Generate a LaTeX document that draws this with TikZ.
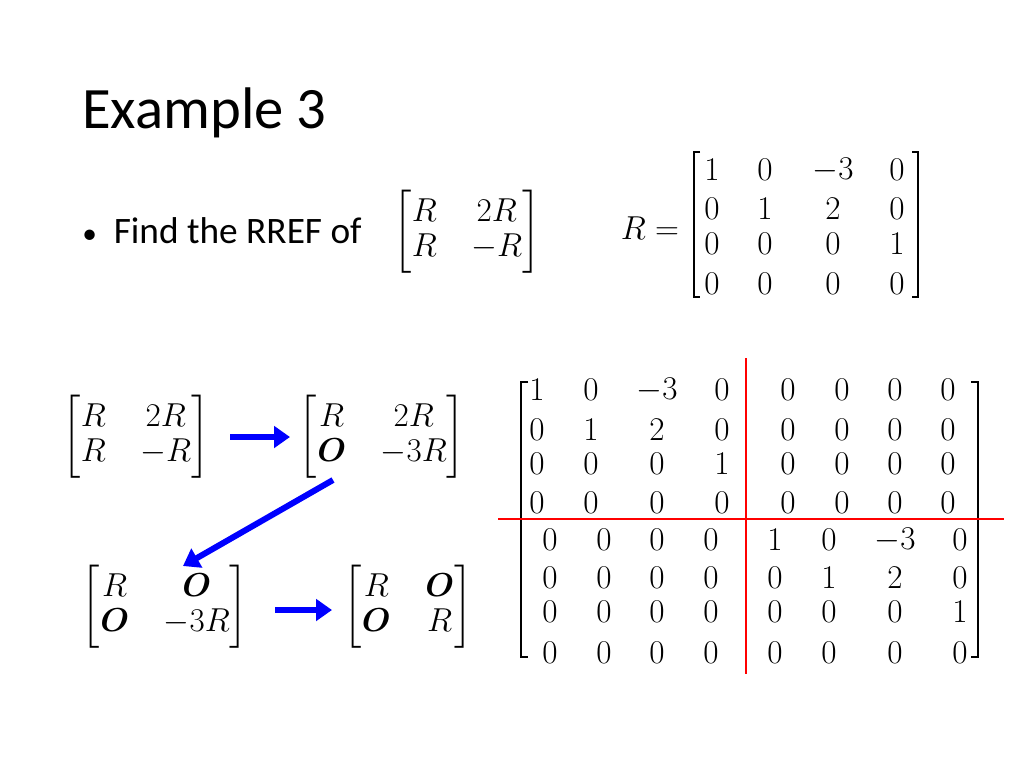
\documentclass[tikz,border=0pt]{standalone}
\usepackage{amsmath,amssymb}
\usepackage{fontspec}
\setmainfont{Carlito}
\usetikzlibrary{arrows.meta}
\setlength{\arraycolsep}{13pt}
\begin{document}
\begin{tikzpicture}[x=0.75pt,y=-0.75pt,
  ent/.style={inner sep=0pt,font=\fontsize{26}{30}\selectfont},
  mat/.style={inner sep=0pt,font=\fontsize{26}{26}\selectfont},
  barrow/.style={draw=blue,line width=4.5pt,-{Triangle[length=12pt,width=16pt]}},
  redl/.style={draw=red,line width=2pt},
  brk/.style={draw=black,line width=1pt}]
\useasboundingbox (0,0) rectangle (1024,768);
\node[anchor=west,inner sep=0pt,font=\fontsize{44}{50}\selectfont] (title) at (82,113) {Example 3};
\node[anchor=west,inner sep=0pt,font=\fontsize{28}{32}\selectfont] (find) at (82,231) {{\fontsize{22}{22}\selectfont•}\ \ Find the RREF of};
\node[mat] (m0) at (467,232) {$\begin{bmatrix} R & 2R\\ R & -R\end{bmatrix}$};
\node[mat] (req) at (650,228) {$R=$};
% R matrix
\draw[brk] (700,152)--(694,152)--(694,297)--(700,297);
\draw[brk] (912,152)--(918,152)--(918,297)--(912,297);
\foreach \r/\y in {{1,0,-3,0}/170,{0,1,2,0}/209,{0,0,0,1}/244,{0,0,0,0}/284}{
  \foreach \v [count=\i] in \r {
    \pgfmathsetmacro\xx{{712,765,833,897}[\i-1]}
    \node[ent] (r\i\y) at (\xx,\y) {$\ifnum\v<0 -3\else\v\fi$};
  }}
% small matrices
\node[mat] (m1) at (136,437) {$\begin{bmatrix} R & 2R\\ R & -R\end{bmatrix}$};
\node[mat] (m2) at (382,437) {$\begin{bmatrix} R & 2R\\ \boldsymbol{O} & -3R\end{bmatrix}$};
\node[mat] (m3) at (165,607) {$\begin{bmatrix} R & \boldsymbol{O}\\ \boldsymbol{O} & -3R\end{bmatrix}$};
\node[mat] (m4) at (408,607) {$\begin{bmatrix} R & \boldsymbol{O}\\ \boldsymbol{O} & R\end{bmatrix}$};
\coordinate (a1s) at (230,437); \coordinate (a1e) at (290,437);
\coordinate (a2s) at (333,480); \coordinate (a2e) at (183,566);
\coordinate (a3s) at (275,610); \coordinate (a3e) at (332,610);
\draw[barrow] (a1s)--(a1e);
\draw[barrow] (a2s)--(a2e);
\draw[barrow] (a3s)--(a3e);
% big matrix
\foreach \r/\y in {{1,0,-3,0,0,0,0,0}/390,{0,1,2,0,0,0,0,0}/430,{0,0,0,1,0,0,0,0}/464,{0,0,0,0,0,0,0,0}/503}{
  \foreach \v [count=\i] in \r {
    \pgfmathsetmacro\xx{{537,591,657,722,788,842,895,948}[\i-1]}
    \node[ent] (t\i\y) at (\xx,\y) {$\ifnum\v<0 -3\else\v\fi$};
  }}
\foreach \r/\y in {{0,0,0,0,1,0,-3,0}/540,{0,0,0,0,0,1,2,0}/578,{0,0,0,0,0,0,0,1}/612,{0,0,0,0,0,0,0,0}/653}{
  \foreach \v [count=\i] in \r {
    \pgfmathsetmacro\xx{{550,604,657,711,775,829,895,960}[\i-1]}
    \node[ent] (b\i\y) at (\xx,\y) {$\ifnum\v<0 -3\else\v\fi$};
  }}
\draw[brk] (528,382)--(521,382)--(521,657)--(528,657);
\draw[brk] (971,382)--(978,382)--(978,657)--(971,657);
\draw[redl] (746,358)--(746,674);
\draw[redl] (498,519)--(1004,519);
\end{tikzpicture}
\end{document}
